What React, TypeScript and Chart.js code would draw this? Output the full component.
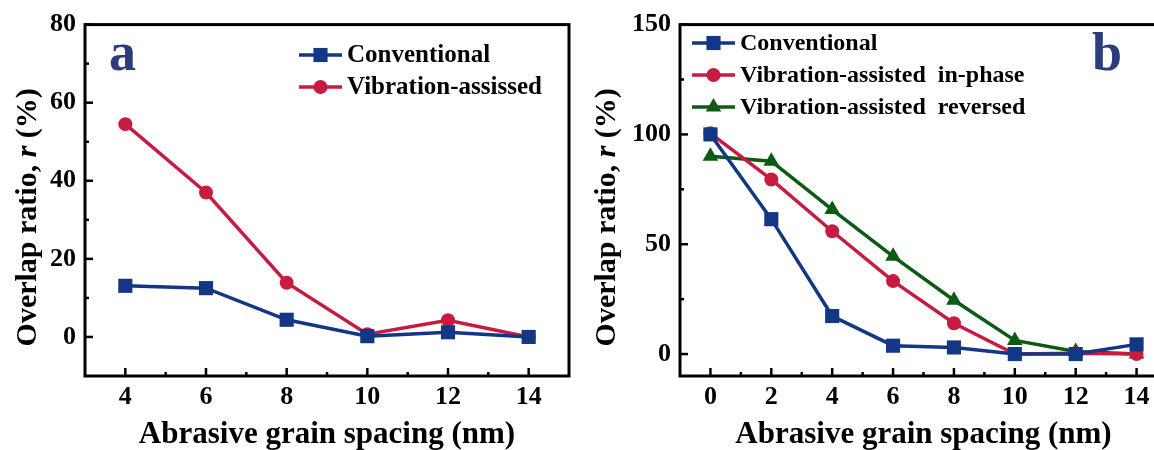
import React, { useEffect, useRef } from "react";
import { Chart, registerables } from "chart.js";

Chart.register(...registerables);

// ---------- data ----------
const spacingA = [4, 6, 8, 10, 12, 14];
const conventionalA = [13.1, 12.5, 4.4, 0.2, 1.2, 0];
const vibrationA = [54.5, 37.0, 13.9, 0.7, 4.3, 0];

const spacingB = [0, 2, 4, 6, 8, 10, 12, 14];
const conventionalB = [100, 61.4, 17.3, 3.8, 3.0, 0, 0, 4.4];
const inPhaseB = [100.5, 79.5, 55.9, 33.2, 14.0, 0, 0.4, 0];
const reversedB = [90.1, 87.8, 65.8, 44.5, 24.5, 6.2, 1.2, 0];

const xTicksA = [4, 6, 8, 10, 12, 14];
const xMinorA = [5, 7, 9, 11, 13];
const yTicksA = [0, 20, 40, 60, 80];
const yMinorA = [10, 30, 50, 70];

const xTicksB = [0, 2, 4, 6, 8, 10, 12, 14];
const xMinorB = [1, 3, 5, 7, 9, 11, 13];
const yTicksB = [0, 50, 100, 150];
const yMinorB = [25, 75, 125];

const legendA = ["Conventional", "Vibration-assissed"];
const legendB = ["Conventional", "Vibration-assisted  in-phase", "Vibration-assisted  reversed"];
const xTitle = "Abrasive grain spacing (nm)";
const yTitleParts = ["Overlap ratio, ", "r", " (%)"];

const BLUE = "#123784";
const RED = "#c81b40";
const GREEN = "#0d5a12";
const LETTER = "#2d3c7c";
const FONT = "'Liberation Serif', 'Times New Roman', serif";

type PanelCfg = {
  width: number;
  xMin: number;
  xMax: number;
  yMin: number;
  yMax: number;
  yAxisWidth: number;
  rightPad: number;
  xTicks: number[];
  xMinor: number[];
  yTicks: number[];
  yMinor: number[];
  datasets: any[];
  letter: string;
  letterX: number;
  letterY: number;
  legendX: number;
  legendY: number;
  legendFont: number;
  yTitleX: number;
};

function drawMarker(ctx: CanvasRenderingContext2D, style: string, x: number, y: number, r: number, color: string) {
  ctx.save();
  ctx.fillStyle = color;
  ctx.beginPath();
  if (style === "rect") {
    const s = r * Math.SQRT1_2;
    ctx.rect(x - s, y - s, 2 * s, 2 * s);
  } else if (style === "triangle") {
    let a = 0;
    ctx.moveTo(x + Math.sin(a) * r, y - Math.cos(a) * r);
    a += (2 * Math.PI) / 3;
    ctx.lineTo(x + Math.sin(a) * r, y - Math.cos(a) * r);
    a += (2 * Math.PI) / 3;
    ctx.lineTo(x + Math.sin(a) * r, y - Math.cos(a) * r);
    ctx.closePath();
  } else {
    ctx.arc(x, y, r, 0, Math.PI * 2);
  }
  ctx.fill();
  ctx.restore();
}

function makeConfig(p: PanelCfg): any {
  const deco = {
    id: "deco",
    beforeDatasetsDraw(chart: any) {
      const { ctx, chartArea, scales } = chart;
      const { left, right, top, bottom } = chartArea;
      ctx.save();
      ctx.strokeStyle = "#000";
      ctx.lineWidth = 3;
      ctx.strokeRect(left, top, right - left, bottom - top);
      ctx.lineWidth = 2.5;
      const tick = (vals: number[], len: number, axis: "x" | "y") => {
        vals.forEach((v) => {
          ctx.beginPath();
          if (axis === "x") {
            const px = scales.x.getPixelForValue(v);
            ctx.moveTo(px, bottom);
            ctx.lineTo(px, bottom - len);
          } else {
            const py = scales.y.getPixelForValue(v);
            ctx.moveTo(left, py);
            ctx.lineTo(left + len, py);
          }
          ctx.stroke();
        });
      };
      tick(p.xTicks, 8, "x");
      tick(p.xMinor, 4, "x");
      tick(p.yTicks, 8, "y");
      tick(p.yMinor, 4, "y");
      ctx.restore();
    },
    afterDraw(chart: any) {
      const { ctx } = chart;
      ctx.save();
      // panel letter
      ctx.fillStyle = LETTER;
      ctx.font = `bold 54px ${FONT}`;
      ctx.textBaseline = "alphabetic";
      ctx.textAlign = "left";
      ctx.fillText(p.letter, p.letterX, p.letterY);

      // legend
      ctx.font = `bold ${p.legendFont}px ${FONT}`;
      ctx.textBaseline = "middle";
      chart.data.datasets.forEach((ds: any, i: number) => {
        const y = p.legendY + i * 32;
        ctx.strokeStyle = ds.borderColor;
        ctx.lineWidth = 3.5;
        ctx.beginPath();
        ctx.moveTo(p.legendX, y);
        ctx.lineTo(p.legendX + 43, y);
        ctx.stroke();
        drawMarker(ctx, ds.pointStyle, p.legendX + 21.5, y, ds.pointRadius, ds.backgroundColor);
        ctx.fillStyle = "#000";
        ctx.fillText(ds.label, p.legendX + 48, y + 1);
      });

      // y title with italic r
      const cy = (chart.chartArea.top + chart.chartArea.bottom) / 2 + 17;
      ctx.translate(p.yTitleX, cy);
      ctx.rotate(-Math.PI / 2);
      ctx.fillStyle = "#000";
      ctx.textBaseline = "middle";
      const fonts = [`bold 30px ${FONT}`, `italic bold 30px ${FONT}`, `bold 30px ${FONT}`];
      let total = 0;
      const widths = yTitleParts.map((t, i) => {
        ctx.font = fonts[i];
        const w = ctx.measureText(t).width;
        total += w;
        return w;
      });
      let x = -total / 2;
      yTitleParts.forEach((t, i) => {
        ctx.font = fonts[i];
        ctx.fillText(t, x, 0);
        x += widths[i];
      });
      ctx.restore();
    },
  };

  return {
    type: "line",
    data: { datasets: p.datasets },
    options: {
      animation: false,
      responsive: false,
      maintainAspectRatio: false,
      layout: { padding: { left: 0, top: 24, right: p.rightPad, bottom: 0 } },
      plugins: { legend: { display: false }, tooltip: { enabled: false } },
      scales: {
        x: {
          type: "linear",
          min: p.xMin,
          max: p.xMax,
          grid: { display: false, drawTicks: false },
          border: { display: false },
          afterBuildTicks: (s: any) => {
            s.ticks = p.xTicks.map((v) => ({ value: v }));
          },
          afterFit: (s: any) => {
            s.height = 74;
          },
          ticks: {
            color: "#000",
            font: { family: FONT, size: 26, weight: "bold" },
            padding: 6,
            autoSkip: false,
            maxRotation: 0,
          },
          title: {
            display: true,
            text: xTitle,
            color: "#000",
            font: { family: FONT, size: 31, weight: "bold", lineHeight: 1 },
            padding: 0,
          },
        },
        y: {
          type: "linear",
          min: p.yMin,
          max: p.yMax,
          grid: { display: false, drawTicks: false },
          border: { display: false },
          afterBuildTicks: (s: any) => {
            s.ticks = p.yTicks.map((v) => ({ value: v }));
          },
          afterFit: (s: any) => {
            s.width = p.yAxisWidth;
          },
          ticks: {
            color: "#000",
            font: { family: FONT, size: 26, weight: "bold" },
            padding: 9,
          },
        },
      },
    },
    plugins: [deco],
  };
}

function series(label: string, xs: number[], ys: number[], color: string, style: string, r: number) {
  return {
    label,
    data: xs.map((x, i) => ({ x, y: ys[i] })),
    borderColor: color,
    backgroundColor: color,
    pointBackgroundColor: color,
    pointBorderColor: color,
    pointBorderWidth: 0,
    borderWidth: 3.5,
    pointStyle: style,
    pointRadius: r,
    tension: 0,
    clip: false,
  };
}

const panelA: PanelCfg = {
  width: 590,
  xMin: 3,
  xMax: 15,
  yMin: -10,
  yMax: 80,
  yAxisWidth: 85,
  rightPad: 21,
  xTicks: xTicksA,
  xMinor: xMinorA,
  yTicks: yTicksA,
  yMinor: yMinorA,
  datasets: [
    series(legendA[0], spacingA, conventionalA, BLUE, "rect", 10),
    series(legendA[1], spacingA, vibrationA, RED, "circle", 7),
  ],
  letter: "a",
  letterX: 109,
  letterY: 70,
  legendX: 299,
  legendY: 55,
  legendFont: 25,
  yTitleX: 28,
};

const panelB: PanelCfg = {
  width: 590,
  xMin: -1,
  xMax: 15,
  yMin: -10,
  yMax: 150,
  yAxisWidth: 90,
  rightPad: 13,
  xTicks: xTicksB,
  xMinor: xMinorB,
  yTicks: yTicksB,
  yMinor: yMinorB,
  datasets: [
    series(legendB[0], spacingB, conventionalB, BLUE, "rect", 10),
    series(legendB[1], spacingB, inPhaseB, RED, "circle", 7),
    series(legendB[2], spacingB, reversedB, GREEN, "triangle", 9),
  ],
  letter: "b",
  letterX: 502,
  letterY: 70,
  legendX: 102,
  legendY: 43,
  legendFont: 24,
  yTitleX: 17,
};

function Panel({ cfg, left }: { cfg: PanelCfg; left: number }) {
  const ref = useRef<HTMLCanvasElement | null>(null);
  useEffect(() => {
    if (!ref.current) return;
    const chart = new Chart(ref.current, makeConfig(cfg));
    return () => chart.destroy();
  }, [cfg]);
  return (
    <canvas
      ref={ref}
      width={cfg.width}
      height={450}
      style={{ position: "absolute", left, top: 0, width: cfg.width, height: 450 }}
    />
  );
}

export default function App() {
  return (
    <div
      style={{
        position: "fixed",
        left: 0,
        top: 0,
        width: 1154,
        height: 450,
        overflow: "hidden",
        background: "#fff",
      }}
    >
      <Panel cfg={panelA} left={0} />
      <Panel cfg={panelB} left={590} />
    </div>
  );
}
